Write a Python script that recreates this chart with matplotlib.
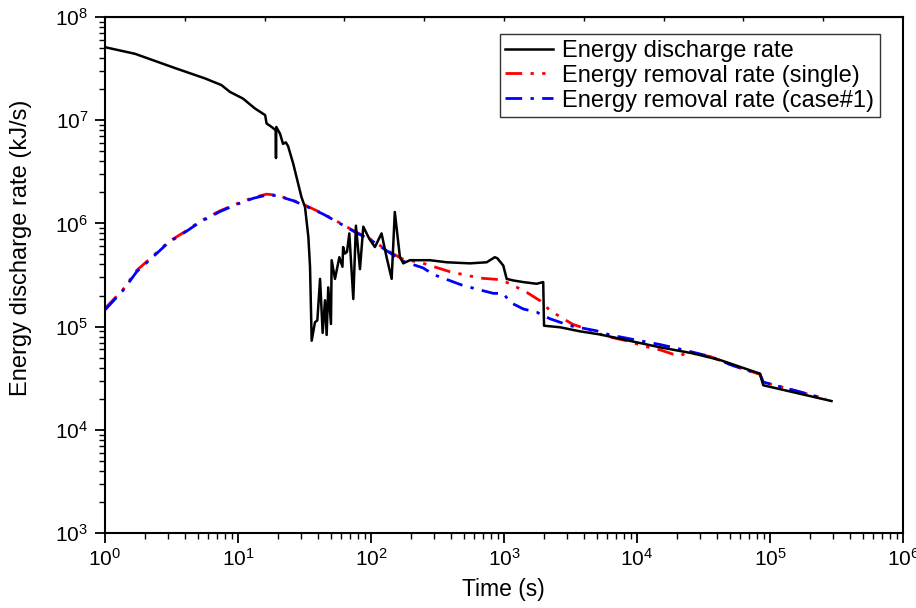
import matplotlib
matplotlib.use("Agg")
import matplotlib.pyplot as plt
import numpy as np
from matplotlib.ticker import LogLocator, NullFormatter, FixedLocator

plt.rcParams['font.family'] = ['Liberation Sans', 'DejaVu Sans']
plt.rcParams['mathtext.fontset'] = 'custom'
plt.rcParams['mathtext.rm'] = 'Liberation Sans'
plt.rcParams['mathtext.it'] = 'Liberation Sans:italic'
plt.rcParams['mathtext.bf'] = 'Liberation Sans:bold'

# Energy discharge rate (black)
t_dis = [1, 1.68, 3.36, 5.65, 7.5, 8.7, 10.9, 13.4, 16, 16.4, 17.9, 19.2, 19.3, 19.4,
         20.7, 21.8, 22.9, 23.8, 26, 30, 31.9, 33.8, 34.8, 35.8, 37.9, 39.5, 41.4,
         43.3, 45.1, 46.4, 47.7, 50, 50.6, 53.6, 57.8, 61, 61.7, 63.6, 66, 68.7, 73.6,
         77, 82.6, 87.5, 97, 107, 120, 131, 143, 151, 165, 175, 196, 277, 371, 555,
         741, 852, 890, 988, 1047, 1175, 1396, 1758, 1972, 2000, 2640, 3720, 5250,
         1.49e4, 2.64e4, 4.2e4, 8.4e4, 8.9e4, 2.9e5]
e_dis = [5.1e7, 4.4e7, 3.2e7, 2.54e7, 2.19e7, 1.88e7, 1.62e7, 1.3e7, 1.12e7, 9.3e6,
         8.6e6, 8.0e6, 4.3e6, 8.6e6, 7.4e6, 5.9e6, 6.1e6, 5.6e6, 3.8e6, 1.8e6, 1.44e6,
         7.4e5, 3.8e5, 7.3e4, 1.1e5, 1.15e5, 2.9e5, 8.7e4, 1.8e5, 8.3e4, 2.4e5, 1.06e5,
         4.4e5, 2.9e5, 4.7e5, 3.8e5, 5.9e5, 5.1e5, 5.3e5, 8e5, 1.85e5, 9.5e5, 3.6e5,
         9.3e5, 7.1e5, 5.9e5, 8e5, 4.7e5, 2.9e5, 1.29e6, 4.7e5, 4.1e5, 4.4e5, 4.4e5,
         4.2e5, 4.1e5, 4.2e5, 4.7e5, 4.6e5, 3.9e5, 2.9e5, 2.8e5, 2.7e5, 2.6e5, 2.7e5,
         1.02e5, 9.85e4, 9.0e4, 8.4e4, 6.3e4, 5.5e4, 4.75e4, 3.5e4, 2.7e4, 1.9e4]

# Energy removal rate (single) (red)
t_single = [1, 1.37, 1.73, 2.24, 2.99, 4.1, 5.18, 7.3, 9.8, 13, 16.4, 19.5, 26, 32,
            43.7, 56.8, 77.6, 98, 138, 174, 233, 393, 660, 933, 1110, 1480, 1870,
            2220, 2960, 3300, 4970, 5560, 8320, 1.11e4, 1.49e4, 1.87e4, 2.1e4, 2.3e4,
            2.64e4, 3.55e4, 5.3e4, 8.1e4, 8.4e4, 8.9e4, 2.6e5]
e_single = [1.5e5, 2.3e5, 3.5e5, 4.7e5, 6.6e5, 8.5e5, 1.05e6, 1.32e6, 1.55e6, 1.78e6,
            1.92e6, 1.88e6, 1.67e6, 1.5e6, 1.24e6, 1.03e6, 8.2e5, 7.1e5, 5.3e5, 4.5e5,
            4.2e5, 3.4e5, 2.95e5, 2.85e5, 2.6e5, 2.15e5, 1.78e5, 1.43e5, 1.14e5, 1.05e5,
            8.8e4, 8.2e4, 7.3e4, 6.5e4, 5.95e4, 5.4e4, 5.2e4, 5.5e4, 5.5e4, 5.13e4,
            4.17e4, 3.5e4, 3.47e4, 2.9e4, 2.0e4]

# Energy removal rate (case#1) (blue)
t_case1 = [1, 1.37, 1.73, 2.24, 2.99, 4.1, 5.18, 7.3, 9.8, 13, 16.4, 19.5, 26, 32,
           43.7, 56.8, 77.6, 98, 138, 174, 247, 294, 493, 830, 990, 1110, 1400, 1760,
           2220, 3140, 4970, 6270, 9930, 1.49e4, 2.36e4, 3.55e4, 5.3e4, 8.1e4, 8.4e4,
           8.9e4, 2.6e5]
e_case1 = [1.45e5, 2.25e5, 3.4e5, 4.6e5, 6.5e5, 8.4e5, 1.03e6, 1.3e6, 1.53e6, 1.75e6,
           1.88e6, 1.86e6, 1.66e6, 1.48e6, 1.23e6, 1.02e6, 8.1e5, 7.0e5, 5.2e5, 4.3e5,
           3.7e5, 3.2e5, 2.5e5, 2.1e5, 2.1e5, 1.72e5, 1.48e5, 1.38e5, 1.19e5, 1.02e5,
           9.1e4, 8.3e4, 7.4e4, 6.7e4, 5.85e4, 5.13e4, 4.17e4, 3.5e4, 3.47e4, 2.9e4,
           2.0e4]

labels = ["Energy discharge rate", "Energy removal rate (single)",
          "Energy removal rate (case#1)"]

fig = plt.figure(figsize=(9.16, 6.08), dpi=100)
ax = fig.add_axes([105/916, 1-533/608, (903-105)/916, (533-17)/608])

ax.plot(t_dis, e_dis, color='black', lw=1.8, label=labels[0], zorder=3)
ax.plot(t_single, e_single, color='red', lw=2.0, dashes=(6, 3, 1.2, 3, 1.2, 3),
        label=labels[1], zorder=2)
ax.plot(t_case1, e_case1, color='blue', lw=2.0, dashes=(6, 3, 1.2, 3),
        label=labels[2], zorder=2)

ax.set_xscale('log')
ax.set_yscale('log')
ax.set_xlim(1, 1e6)
ax.set_ylim(1e3, 1e8)

ax.xaxis.set_major_locator(LogLocator(base=10, numticks=20))
ax.yaxis.set_major_locator(LogLocator(base=10, numticks=20))
ax.xaxis.set_minor_locator(LogLocator(base=10, subs=np.arange(2, 10), numticks=20))
ax.yaxis.set_minor_locator(LogLocator(base=10, subs=np.arange(2, 10), numticks=20))
ax.xaxis.set_minor_formatter(NullFormatter())
ax.yaxis.set_minor_formatter(NullFormatter())

ax.tick_params(which='major', direction='out', length=7, width=1.3, labelsize=15,
               top=False, right=False)
ax.tick_params(which='minor', direction='out', length=4, width=1.0,
               top=False, right=False)
ax.tick_params(axis='x', which='major', pad=4)
ax.tick_params(axis='y', which='major', pad=5)

for s in ax.spines.values():
    s.set_linewidth(1.5)

sec = ax.secondary_xaxis('top')
sec.set_xscale('log')
sec.xaxis.set_major_locator(FixedLocator([10**(0.6*k) for k in range(1, 10)]))
sec.xaxis.set_minor_locator(FixedLocator([]))
sec.tick_params(which='major', direction='in', length=3, width=1.0, labelsize=0,
                labeltop=False)

ax.set_xlabel("Time (s)", fontsize=16.5)
ax.set_ylabel("Energy discharge rate (kJ/s)", fontsize=17)
ax.xaxis.set_label_coords((503-105)/798, (533-578)/516)
ax.yaxis.set_label_coords((32-105)/798, (533-248)/516)

leg = ax.legend(loc='upper right', fontsize=17, frameon=True,
                fancybox=False, edgecolor='black', handlelength=2.0,
                handletextpad=0.4, borderpad=0.25, labelspacing=0.12,
                borderaxespad=0)
leg.get_frame().set_linewidth(1.0)
leg.set_bbox_to_anchor((880/916, 1 - 34/608), transform=fig.transFigure)

fig.savefig("out.png", dpi=100)
